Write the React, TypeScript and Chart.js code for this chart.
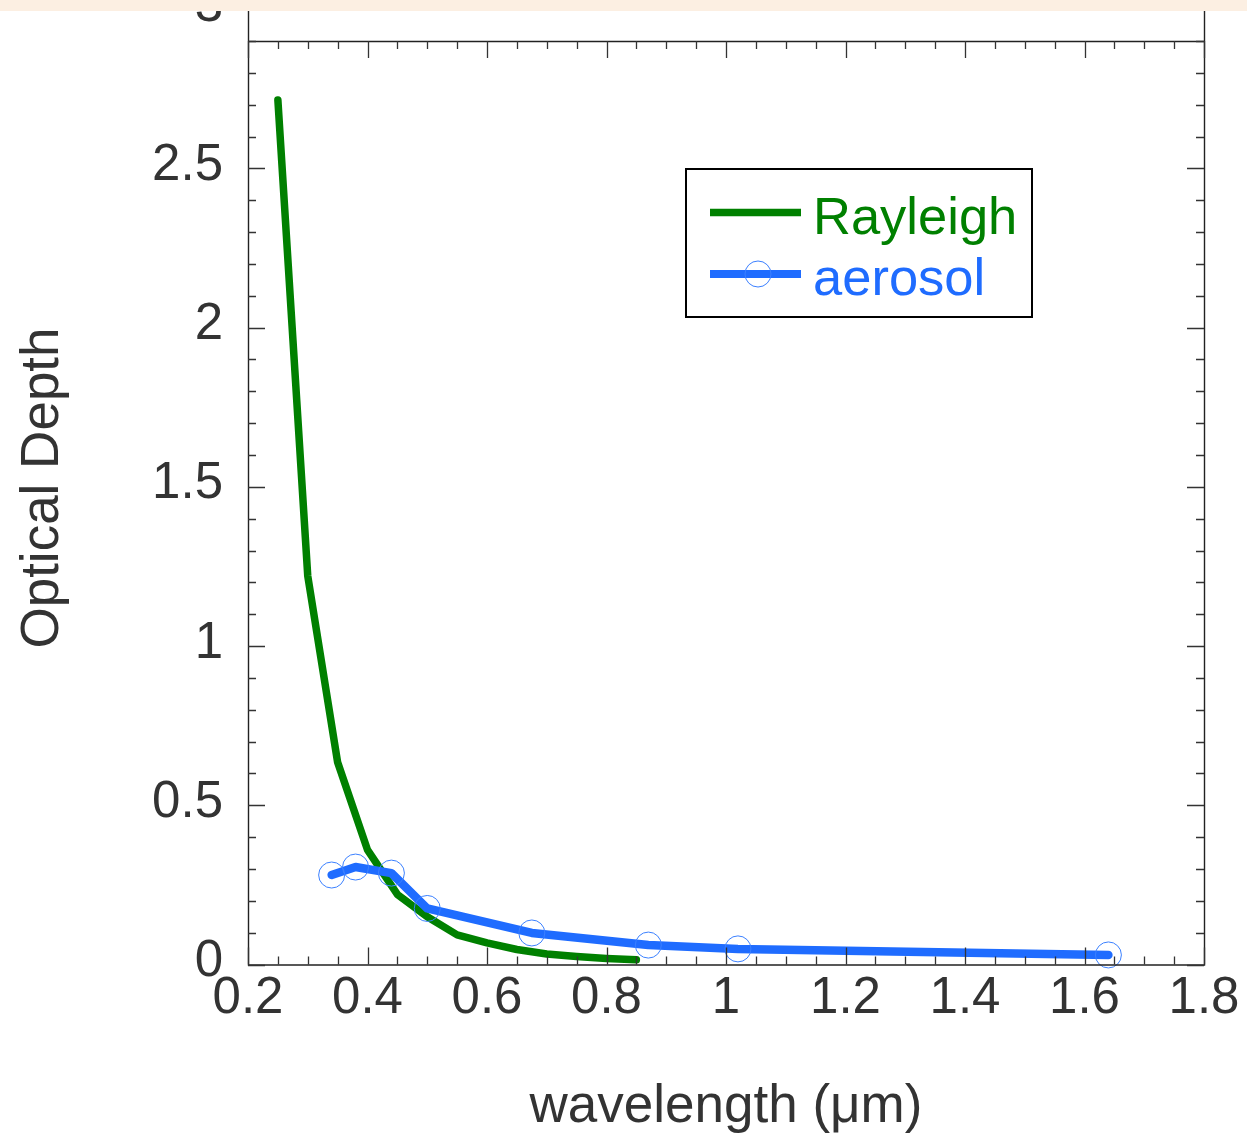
import React, { useEffect, useRef } from "react";
import { Chart, registerables } from "chart.js";

Chart.register(...registerables);

// Rayleigh optical depth
const rayleighWavelength = [0.25, 0.3, 0.35, 0.4, 0.45, 0.5, 0.55, 0.6, 0.65, 0.7, 0.75, 0.8, 0.85];
const rayleighDepth = [2.715, 1.22, 0.635, 0.36, 0.22, 0.15, 0.093, 0.068, 0.047, 0.033, 0.025, 0.019, 0.015];

// Aerosol optical depth
const aerosolWavelength = [0.34, 0.38, 0.44, 0.5, 0.675, 0.87, 1.02, 1.64];
const aerosolDepth = [0.281, 0.306, 0.287, 0.176, 0.099, 0.061, 0.049, 0.03];

const xTickLabels = ["0.2", "0.4", "0.6", "0.8", "1", "1.2", "1.4", "1.6", "1.8"];
const yTickLabels = ["0", "0.5", "1", "1.5", "2", "2.5", "3"];

const xTitle = "wavelength (\u03bcm)";
const yTitle = "Optical Depth";
const seriesNames = ["Rayleigh", "aerosol"];

const GREEN = "#008000";
const BLUE = "#1f6cff";
const MARKER = "#3b80ff";
const TEXT = "#333333";
const FONT = "'Liberation Sans', Arial, Helvetica, sans-serif";

const framePlugin = {
  id: "framePlugin",
  afterDraw(chart: any) {
    const ctx = chart.ctx;
    const xs = chart.scales.x;
    const ys = chart.scales.y;
    const { left, right, top, bottom } = chart.chartArea;
    ctx.save();

    // frame
    ctx.strokeStyle = "#222";
    ctx.lineWidth = 1.4;
    ctx.beginPath();
    ctx.moveTo(left + 0.5, 0);
    ctx.lineTo(left + 0.5, bottom + 0.5);
    ctx.lineTo(right + 0.5, bottom + 0.5);
    ctx.lineTo(right + 0.5, 0);
    ctx.moveTo(left, top + 0.5);
    ctx.lineTo(right, top + 0.5);
    ctx.stroke();

    // ticks
    ctx.strokeStyle = "#333";
    ctx.lineWidth = 1.3;
    ctx.beginPath();
    for (let i = 0; i <= 32; i++) {
      const v = 0.2 + i * 0.05;
      const px = Math.round(xs.getPixelForValue(v)) + 0.5;
      const len = i % 4 === 0 ? 17 : 8;
      ctx.moveTo(px, bottom);
      ctx.lineTo(px, bottom - len);
      ctx.moveTo(px, top);
      ctx.lineTo(px, top + len);
    }
    for (let i = 0; i <= 29; i++) {
      const v = i * 0.1;
      const py = Math.round(ys.getPixelForValue(v)) + 0.5;
      const len = i % 5 === 0 ? 17 : 8;
      ctx.moveTo(left, py);
      ctx.lineTo(left + len, py);
      ctx.moveTo(right, py);
      ctx.lineTo(right - len, py);
    }
    ctx.stroke();

    // tick labels
    ctx.fillStyle = TEXT;
    ctx.font = `51px ${FONT}`;
    ctx.textBaseline = "alphabetic";
    ctx.textAlign = "center";
    xTickLabels.forEach((lab) => {
      const px = xs.getPixelForValue(parseFloat(lab));
      ctx.fillText(lab, px, 1013);
    });
    ctx.textAlign = "right";
    yTickLabels.forEach((lab) => {
      const py = ys.getPixelForValue(parseFloat(lab));
      ctx.fillText(lab, 223, py + 11.5);
    });

    // axis titles
    ctx.font = `53px ${FONT}`;
    ctx.textAlign = "center";
    ctx.fillText(xTitle, 726, 1122);
    ctx.save();
    ctx.translate(58, 488);
    ctx.rotate(-Math.PI / 2);
    ctx.fillText(yTitle, 0, 0);
    ctx.restore();

    // legend
    ctx.fillStyle = "#fff";
    ctx.fillRect(686, 169, 346, 148);
    ctx.strokeStyle = "#000";
    ctx.lineWidth = 2;
    ctx.strokeRect(686, 169, 346, 148);
    ctx.lineCap = "butt";
    ctx.strokeStyle = GREEN;
    ctx.lineWidth = 7.5;
    ctx.beginPath();
    ctx.moveTo(710, 212.5);
    ctx.lineTo(801, 212.5);
    ctx.stroke();
    ctx.strokeStyle = BLUE;
    ctx.lineWidth = 8;
    ctx.beginPath();
    ctx.moveTo(710, 274);
    ctx.lineTo(801, 274);
    ctx.stroke();
    ctx.strokeStyle = MARKER;
    ctx.lineWidth = 1;
    ctx.beginPath();
    ctx.arc(758, 274, 13, 0, Math.PI * 2);
    ctx.stroke();
    ctx.font = `52.5px ${FONT}`;
    ctx.textAlign = "left";
    ctx.fillStyle = GREEN;
    ctx.fillText(seriesNames[0], 813, 234);
    ctx.fillStyle = BLUE;
    ctx.fillText(seriesNames[1], 813, 295);

    // top band
    ctx.fillStyle = "#fcefe2";
    ctx.fillRect(0, 0, chart.width, 11);
    ctx.restore();
  },
};

export default function App() {
  const ref = useRef<HTMLCanvasElement | null>(null);
  useEffect(() => {
    if (!ref.current) return;
    const chart = new Chart(ref.current, {
      type: "line",
      data: {
        datasets: [
          {
            label: seriesNames[1],
            data: aerosolWavelength.map((x, i) => ({ x, y: aerosolDepth[i] })),
            borderColor: BLUE,
            borderWidth: 8.5,
            borderCapStyle: "round",
            borderJoinStyle: "round",
            pointRadius: 13,
            pointBorderWidth: 1,
            pointBorderColor: MARKER,
            pointBackgroundColor: "rgba(0,0,0,0)",
            pointStyle: "circle",
            fill: false,
            tension: 0,
            order: 0,
          },
          {
            label: seriesNames[0],
            data: rayleighWavelength.map((x, i) => ({ x, y: rayleighDepth[i] })),
            borderColor: GREEN,
            borderWidth: 7.5,
            borderCapStyle: "round",
            borderJoinStyle: "round",
            pointRadius: 0,
            fill: false,
            tension: 0,
            order: 1,
          },
        ],
      },
      options: {
        animation: false,
        responsive: false,
        devicePixelRatio: 1,
        layout: { padding: { left: 248, right: 43, top: 41, bottom: 172.5 } },
        scales: {
          x: { type: "linear", min: 0.2, max: 1.8, display: false },
          y: { type: "linear", min: 0, max: 2.9, display: false },
        },
        plugins: { legend: { display: false }, tooltip: { enabled: false } },
        clip: false as any,
      },
      plugins: [framePlugin],
    });
    return () => chart.destroy();
  }, []);
  return (
    <div style={{ position: "absolute", left: 0, top: 0, width: 1247, height: 1137, background: "#fff" }}>
      <canvas ref={ref} width={1247} height={1137} style={{ display: "block" }} />
    </div>
  );
}
